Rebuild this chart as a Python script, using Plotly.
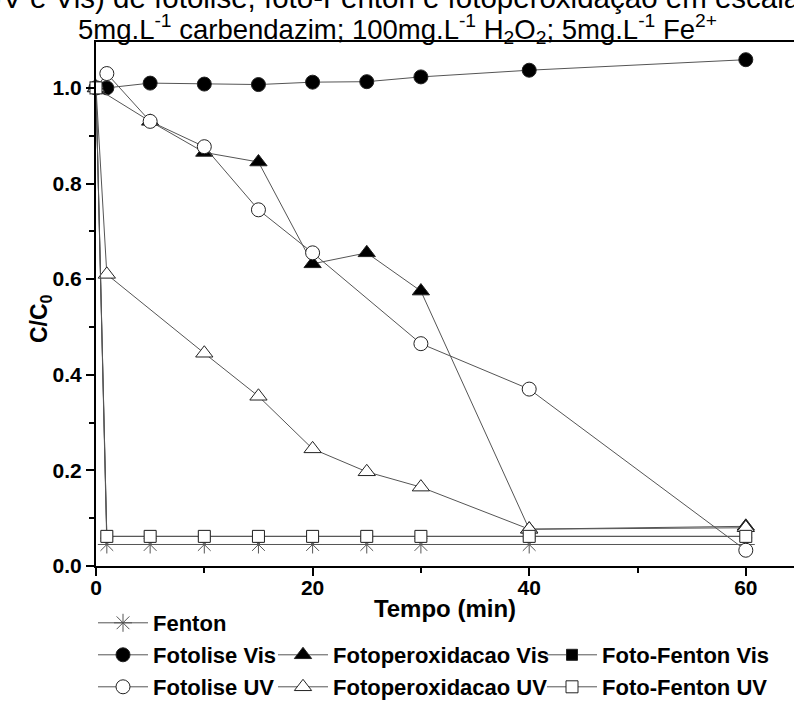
import plotly.graph_objects as go

# ---- data ----
t_fenton = [0, 1, 5, 10, 15, 20, 25, 30, 40, 60]
c_fenton = [1.0, 0.045, 0.045, 0.045, 0.045, 0.045, 0.045, 0.045, 0.045, 0.045]

t_fotolise_vis = [0, 1, 5, 10, 15, 20, 25, 30, 40, 60]
c_fotolise_vis = [1.0, 1.0, 1.01, 1.008, 1.007, 1.012, 1.013, 1.023, 1.037, 1.059]

t_fotoperox_vis = [0, 5, 10, 15, 20, 25, 30, 40, 60]
c_fotoperox_vis = [1.0, 0.93, 0.865, 0.845, 0.632, 0.655, 0.575, 0.077, 0.083]

t_fotofenton_vis = [0, 1, 5, 10, 15, 20, 25, 30, 40, 60]
c_fotofenton_vis = [1.0, 0.062, 0.062, 0.062, 0.062, 0.062, 0.062, 0.062, 0.062, 0.062]

t_fotolise_uv = [0, 1, 5, 10, 15, 20, 30, 40, 60]
c_fotolise_uv = [1.0, 1.03, 0.93, 0.877, 0.745, 0.655, 0.465, 0.37, 0.033]

t_fotoperox_uv = [0, 1, 10, 15, 20, 25, 30, 40, 60]
c_fotoperox_uv = [1.0, 0.61, 0.445, 0.355, 0.245, 0.197, 0.165, 0.077, 0.08]

t_fotofenton_uv = [0, 1, 5, 10, 15, 20, 25, 30, 40, 60]
c_fotofenton_uv = [1.0, 0.062, 0.062, 0.062, 0.062, 0.062, 0.062, 0.062, 0.062, 0.062]

x_ticks = [0, 20, 40, 60]
y_ticks = [0.0, 0.2, 0.4, 0.6, 0.8, 1.0]
y_ticklabels = ["0.0", "0.2", "0.4", "0.6", "0.8", "1.0"]

FONT = "Arial, Liberation Sans, sans-serif"
LINE = "#555555"
EDGE = "#222222"

series = [
    ("Fenton", t_fenton, c_fenton, "asterisk-open", 15, LINE, "legend"),
    ("Fotolise Vis", t_fotolise_vis, c_fotolise_vis, "circle", 14, "black", "legend2"),
    ("Fotoperoxidacao Vis", t_fotoperox_vis, c_fotoperox_vis, "triangle-up", 15, "black", "legend3"),
    ("Foto-Fenton Vis", t_fotofenton_vis, c_fotofenton_vis, "square", 11, "black", "legend4"),
    ("Fotolise UV", t_fotolise_uv, c_fotolise_uv, "circle", 14, "white", "legend5"),
    ("Fotoperoxidacao UV", t_fotoperox_uv, c_fotoperox_uv, "triangle-up", 15, "white", "legend6"),
    ("Foto-Fenton UV", t_fotofenton_uv, c_fotofenton_uv, "square", 12, "white", "legend7"),
]

fig = go.Figure()
for name, xs, ys, sym, size, fill, lg in series:
    fig.add_trace(go.Scatter(
        x=xs, y=ys, name=name, mode="lines+markers", legend=lg,
        cliponaxis=False,
        line=dict(color=LINE, width=1),
        marker=dict(symbol=sym, size=size, color=fill,
                    line=dict(color=EDGE if sym != "asterisk-open" else LINE, width=1)),
    ))

L, R, T, B = 96, 0, 42, 151
W, H = 794, 717
pw, ph = W - L - R, H - T - B


def px_x(p):
    return (p - L) / pw


def px_y(p):
    return (H - B - p) / ph


legend_font = dict(family=FONT, size=22, color="black", weight="bold")
leg_pos = {
    "legend": (93, 623),
    "legend2": (93, 655), "legend3": (273, 655), "legend4": (542, 655),
    "legend5": (93, 687), "legend6": (273, 687), "legend7": (542, 687),
}
legends = {}
for k, (xp, yp) in leg_pos.items():
    legends[k] = dict(x=px_x(xp), y=px_y(yp), xanchor="left", yanchor="middle",
                      font=legend_font, bgcolor="rgba(0,0,0,0)", borderwidth=0,
                      itemwidth=50, tracegroupgap=0)

fig.update_layout(
    width=W, height=H,
    margin=dict(l=L, r=R, t=T, b=B, pad=0),
    paper_bgcolor="white", plot_bgcolor="white",
    showlegend=True,
    font=dict(family=FONT, color="black"),
    **legends,
)

fig.update_xaxes(
    range=[0, 64.45], tickvals=x_ticks, ticktext=[str(v) for v in x_ticks],
    ticks="outside", ticklen=8, tickwidth=2, tickcolor="black",
    minor=dict(dtick=10, tick0=0, ticks="outside", ticklen=5, tickwidth=2, tickcolor="black"),
    showline=True, linewidth=2, linecolor="black", mirror=True,
    showgrid=False, zeroline=False, ticklabelstandoff=-6,
    tickfont=dict(family=FONT, size=21, color="black", weight="bold"),
    title=dict(text="Tempo (min)", font=dict(family=FONT, size=24, color="black", weight="bold"),
               standoff=2),
)
fig.update_yaxes(
    range=[0, 1.096], tickvals=y_ticks, ticktext=y_ticklabels,
    ticks="outside", ticklen=8, tickwidth=2, tickcolor="black",
    minor=dict(dtick=0.1, tick0=0, ticks="outside", ticklen=5, tickwidth=2, tickcolor="black"),
    showline=True, linewidth=2, linecolor="black",
    showgrid=False, zeroline=False,
    tickfont=dict(family=FONT, size=21, color="black", weight="bold"),
)

fig.add_annotation(
    text="C/C<sub>0</sub>", textangle=-90,
    xref="paper", yref="paper", x=px_x(40), y=px_y(318), xanchor="center", yanchor="middle",
    showarrow=False, font=dict(family=FONT, size=23, color="black", weight="bold"),
)

fig.add_annotation(
    text="(UV e Vis) de fotolise, foto-Fenton e fotoperoxidação em escala laboratorial",
    xref="paper", yref="paper", x=px_x(-31), y=px_y(-3), xanchor="left", yanchor="middle",
    showarrow=False, font=dict(family=FONT, size=29.5, color="black"),
)
fig.add_annotation(
    text="5mg.L<sup>-1</sup> carbendazim; 100mg.L<sup>-1</sup> H<sub>2</sub>O<sub>2</sub>; 5mg.L<sup>-1</sup> Fe<sup>2+</sup>",
    xref="paper", yref="paper", x=px_x(397), y=px_y(29), xanchor="center", yanchor="middle",
    showarrow=False, font=dict(family=FONT, size=27.5, color="black"),
)

fig.write_html("out.html")
